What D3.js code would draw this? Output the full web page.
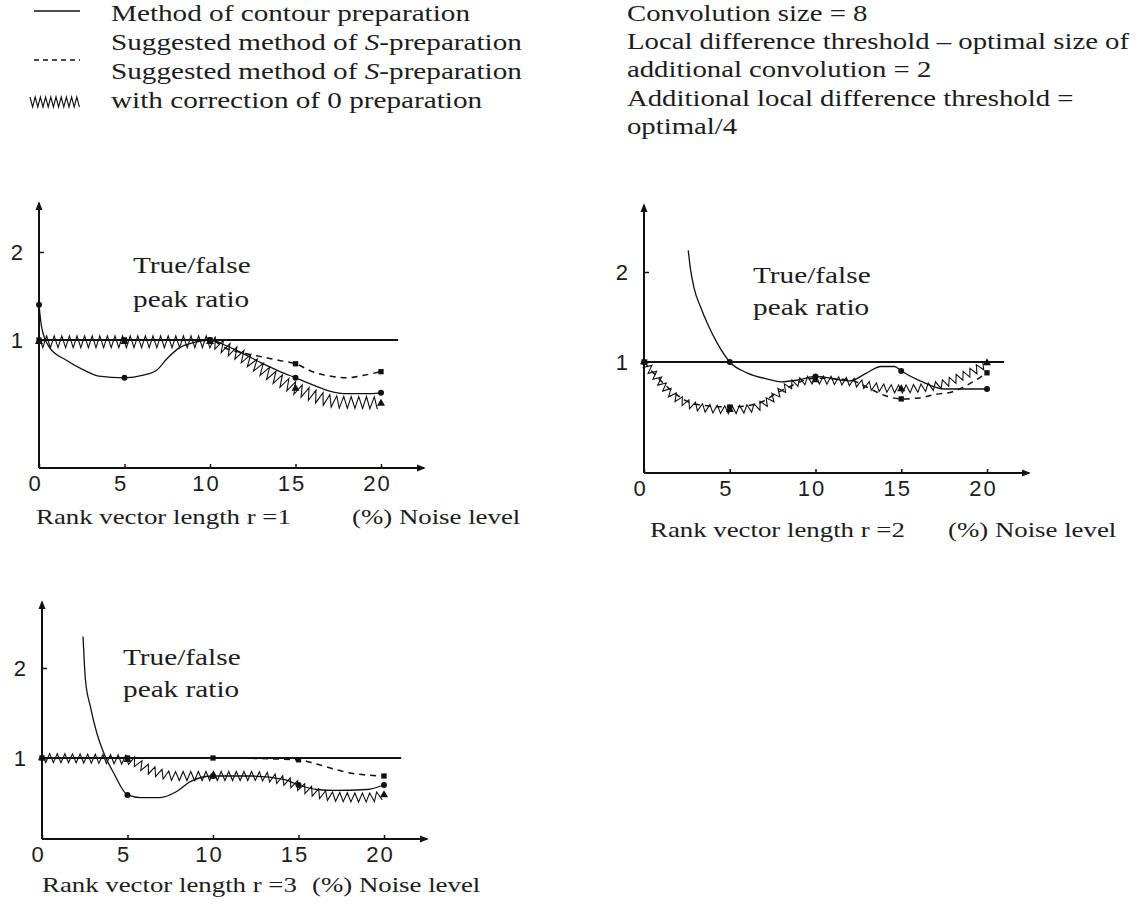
<!DOCTYPE html>
<html>
<head>
<meta charset="utf-8">
<script src="https://cdn.jsdelivr.net/npm/d3@7"></script>
<style>
  body { margin: 0; background: #fff; }
  svg text { fill: #1c1c1c; }
  .serif { font-family: "Liberation Serif", "Times New Roman", serif; }
  .sans { font-family: "Liberation Sans", Arial, sans-serif; }
</style>
</head>
<body>
<div id="chart"></div>
<script>
// Axis ticks
var xTicks = [0, 5, 10, 15, 20];
var yTicks = [1, 2];
var refLevel = 1;     // horizontal reference line
var refEnd = 21;      // reference line runs to this noise level

// Header texts
var legendLabels = [
  "Method of contour preparation",
  "Suggested method of S-preparation",
  "Suggested method of S-preparation",
  "with correction of 0 preparation"
];
var notes = [
  "Convolution size = 8",
  "Local difference threshold \u2013 optimal size of",
  "additional convolution = 2",
  "Additional local difference threshold =",
  "optimal/4"
];
var ratioLabel = ["True/false", "peak ratio"];
var captions = ["Rank vector length r =1", "Rank vector length r =2", "Rank vector length r =3"];
var noiseLabel = "(%) Noise level";

// r = 1 : [noise %, ratio]
var r1Contour = [[0, 1.4], [0.15, 1.15], [0.6, 0.92], [1.6, 0.77], [2.6, 0.66], [3.5, 0.59], [5, 0.57],
  [6.1, 0.6], [6.9, 0.66], [7.4, 0.77], [8.2, 0.91], [9, 0.97], [10, 1.0], [11, 0.93], [12, 0.84],
  [13, 0.74], [14, 0.65], [15, 0.57], [16, 0.49], [17, 0.42], [18, 0.39], [19, 0.39], [20, 0.4]];
var r1Dashed = [[0, 1.0], [5, 1.0], [10, 1.0], [11, 0.9], [12, 0.85], [13, 0.81], [14, 0.77], [15, 0.73],
  [16, 0.64], [17, 0.59], [18, 0.57], [19, 0.6], [20, 0.64]];
var r1Zigzag = [[0, 0.98], [5, 0.98], [10, 0.98], [11, 0.9], [12, 0.8], [13, 0.67], [14, 0.55], [15, 0.45],
  [16, 0.37], [17, 0.31], [18, 0.29], [19, 0.29], [20, 0.28]];

// r = 2
var r2Contour = [[2.58, 2.24], [2.72, 2.02], [2.91, 1.83], [3.3, 1.61], [3.69, 1.43], [4.27, 1.21], [5, 1.0],
  [6, 0.88], [7.2, 0.81], [8, 0.78], [9, 0.8], [10, 0.84], [12, 0.79], [13, 0.88], [13.8, 0.95],
  [14.6, 0.95], [15, 0.9], [16.1, 0.79], [17.5, 0.7], [19, 0.7], [20, 0.7]];
var r2Dashed = [[0, 1.0], [1.5, 0.7], [3, 0.53], [5, 0.5], [6.5, 0.53], [8, 0.68], [10, 0.82], [12, 0.8],
  [13, 0.72], [14, 0.63], [15, 0.59], [16, 0.6], [17, 0.64], [18, 0.67], [19, 0.76], [20, 0.88]];
var r2Zigzag = [[0, 1.0], [0.6, 0.86], [1.5, 0.66], [2.5, 0.54], [3.5, 0.49], [5, 0.47], [6.4, 0.49],
  [7.2, 0.56], [8, 0.68], [8.7, 0.76], [10, 0.8], [12, 0.78], [13.6, 0.72], [15, 0.7], [16.1, 0.71],
  [17.5, 0.76], [18.4, 0.83], [19.5, 0.93], [20, 0.99]];

// r = 3
var r3Contour = [[2.4, 2.35], [2.54, 1.87], [2.83, 1.57], [3.2, 1.28], [3.6, 1.06], [4.2, 0.83], [5, 0.59],
  [5.8, 0.56], [6.9, 0.56], [7.9, 0.63], [8.7, 0.74], [10, 0.8], [12.2, 0.8], [14.2, 0.76], [15, 0.7],
  [16.1, 0.65], [17.1, 0.64], [19, 0.65], [20, 0.7]];
var r3Dashed = [[0, 1.0], [5, 1.0], [10, 1.0], [15, 0.98], [16.1, 0.93], [18.1, 0.83], [19, 0.81], [20, 0.8]];
var r3Zigzag = [[0, 1.0], [5, 0.98], [6.3, 0.87], [7.7, 0.8], [10, 0.8], [12.4, 0.8], [14.6, 0.72],
  [15.5, 0.65], [17.1, 0.57], [19, 0.56], [20, 0.59]];

var W = 1140, H = 908;

var svg = d3.select("#chart").append("svg")
  .attr("width", W).attr("height", H)
  .style("background", "#fff");

svg.append("defs").append("marker")
  .attr("id", "arrow")
  .attr("viewBox", "0 -5 10 10")
  .attr("refX", 8).attr("refY", 0)
  .attr("markerWidth", 9).attr("markerHeight", 9)
  .attr("markerUnits", "userSpaceOnUse")
  .attr("orient", "auto")
  .append("path").attr("d", "M0,-4L10,0L0,4Z").attr("fill", "#111");

// text stretched horizontally like the scanned figure, "S" before "-" in italics
function serifText(g, x, y, str, size, sx) {
  var t = g.append("text").attr("class", "serif")
    .attr("transform", "translate(" + x + "," + y + ") scale(" + (sx || 1.22) + ",1)")
    .style("font-size", size + "px");
  var parts = str.split(/(\bS(?=-))/);
  parts.forEach(function (p) {
    if (!p) return;
    t.append("tspan").text(p).style("font-style", p === "S" ? "italic" : null);
  });
  return t;
}

function zigzagPoints(node, step, amp) {
  var L = node.getTotalLength(), pts = [], i = 0;
  for (var s = 0; s <= L; s += step, i++) {
    var p = node.getPointAtLength(s),
        a = node.getPointAtLength(Math.max(0, s - 1)),
        b = node.getPointAtLength(Math.min(L, s + 1));
    var dx = b.x - a.x, dy = b.y - a.y, len = Math.hypot(dx, dy) || 1;
    var sign = i % 2 ? 1 : -1;
    pts.push([p.x - dy / len * amp * sign, p.y + dx / len * amp * sign]);
  }
  return pts;
}

// ---- legend (left) ----
var legend = svg.append("g");
var legendY = [21, 50, 79, 108];
legendLabels.forEach(function (d, i) { serifText(legend, 111, legendY[i], d, 23, 1.27); });

legend.append("line").attr("x1", 34).attr("x2", 80).attr("y1", 11).attr("y2", 11)
  .attr("stroke", "#111").attr("stroke-width", 1.6);
legend.append("line").attr("x1", 34).attr("x2", 80).attr("y1", 60).attr("y2", 60)
  .attr("stroke", "#111").attr("stroke-width", 1.6).attr("stroke-dasharray", "5,4");
var lz = legend.append("path").attr("d", "M30,102L80,102").attr("fill", "none");
legend.append("path")
  .attr("d", d3.line()(zigzagPoints(lz.node(), 2.6, 5)))
  .attr("fill", "none").attr("stroke", "#111").attr("stroke-width", 1.1);
lz.remove();

// ---- notes (right) ----
var noteY = [21, 49, 77, 106, 134];
notes.forEach(function (d, i) { serifText(svg, 627, noteY[i], d, 23, 1.25); });

// ---- panels ----
var panels = [
  { x0: 39, x20: 381, y1: 340, y2: 252, base: 468, top: 203, right: 424, amp: 6,
    textX: 133, textY: [273, 307], capX: 36, noiseX: 352, capY: 524,
    contour: r1Contour, dashed: r1Dashed, zigzag: r1Zigzag, caption: captions[0] },
  { x0: 644, x20: 987, y1: 362, y2: 272, base: 473, top: 205, right: 1029, amp: 4,
    textX: 753, textY: [283, 315], capX: 650, noiseX: 948, capY: 537,
    contour: r2Contour, dashed: r2Dashed, zigzag: r2Zigzag, caption: captions[1] },
  { x0: 42, x20: 384, y1: 758, y2: 668, base: 839, top: 602, right: 427, amp: 4.5,
    textX: 123, textY: [665, 697], capX: 42, noiseX: 312, capY: 892,
    contour: r3Contour, dashed: r3Dashed, zigzag: r3Zigzag, caption: captions[2] }
];

panels.forEach(function (p) {
  var g = svg.append("g");
  var x = d3.scaleLinear().domain([0, 20]).range([p.x0, p.x20]);
  var y = d3.scaleLinear().domain([1, 2]).range([p.y1, p.y2]);
  var line = d3.line().x(function (d) { return x(d[0]); }).y(function (d) { return y(d[1]); })
    .curve(d3.curveMonotoneX);

  // axes with arrow heads
  g.append("line").attr("x1", p.x0).attr("x2", p.x0).attr("y1", p.base).attr("y2", p.top)
    .attr("stroke", "#111").attr("stroke-width", 2).attr("marker-end", "url(#arrow)");
  g.append("line").attr("x1", p.x0).attr("x2", p.right).attr("y1", p.base).attr("y2", p.base)
    .attr("stroke", "#111").attr("stroke-width", 2).attr("marker-end", "url(#arrow)");

  var xa = g.append("g").attr("class", "sans")
    .attr("transform", "translate(0," + p.base + ")")
    .call(d3.axisBottom(x).tickValues(xTicks).tickFormat(d3.format("d")).tickSize(-4).tickPadding(7));
  var ya = g.append("g").attr("class", "sans")
    .attr("transform", "translate(" + p.x0 + ",0)")
    .call(d3.axisLeft(y).tickValues(yTicks).tickFormat(d3.format("d")).tickSize(-5).tickPadding(16));
  [xa, ya].forEach(function (a) {
    a.select(".domain").remove();
    a.selectAll("line").attr("stroke", "#111").attr("stroke-width", 1.5);
    a.selectAll("text").style("font-size", "22px").style("fill", "#1c1c1c");
  });
  xa.selectAll("text").attr("dx", -4).style("letter-spacing", "2px");

  // reference line at ratio 1
  g.append("line").attr("x1", x(0)).attr("x2", x(refEnd))
    .attr("y1", y(refLevel)).attr("y2", y(refLevel))
    .attr("stroke", "#111").attr("stroke-width", 1.8);

  // curves
  g.append("path").attr("d", line(p.contour)).attr("fill", "none")
    .attr("stroke", "#111").attr("stroke-width", 1.3);
  g.append("path").attr("d", line(p.dashed)).attr("fill", "none")
    .attr("stroke", "#111").attr("stroke-width", 1.5).attr("stroke-dasharray", "6,5");
  var zp = g.append("path").attr("d", line(p.zigzag)).attr("fill", "none");
  g.append("path").attr("d", d3.line()(zigzagPoints(zp.node(), 3.8, p.amp)))
    .attr("fill", "none").attr("stroke", "#111").attr("stroke-width", 1.1);
  zp.remove();

  // point markers at the tick positions
  [[p.contour, d3.symbolCircle], [p.dashed, d3.symbolSquare], [p.zigzag, d3.symbolTriangle]]
    .forEach(function (s) {
      g.selectAll(null)
        .data(s[0].filter(function (d) { return xTicks.indexOf(d[0]) >= 0; }))
        .enter().append("path")
        .attr("d", d3.symbol().type(s[1]).size(28))
        .attr("transform", function (d) { return "translate(" + x(d[0]) + "," + y(d[1]) + ")"; })
        .attr("fill", "#111");
    });

  // labels
  serifText(g, p.textX, p.textY[0], ratioLabel[0], 24);
  serifText(g, p.textX, p.textY[1], ratioLabel[1], 24);
  serifText(g, p.capX, p.capY, p.caption, 22);
  serifText(g, p.noiseX, p.capY, noiseLabel, 22);
});
</script>
</body>
</html>
